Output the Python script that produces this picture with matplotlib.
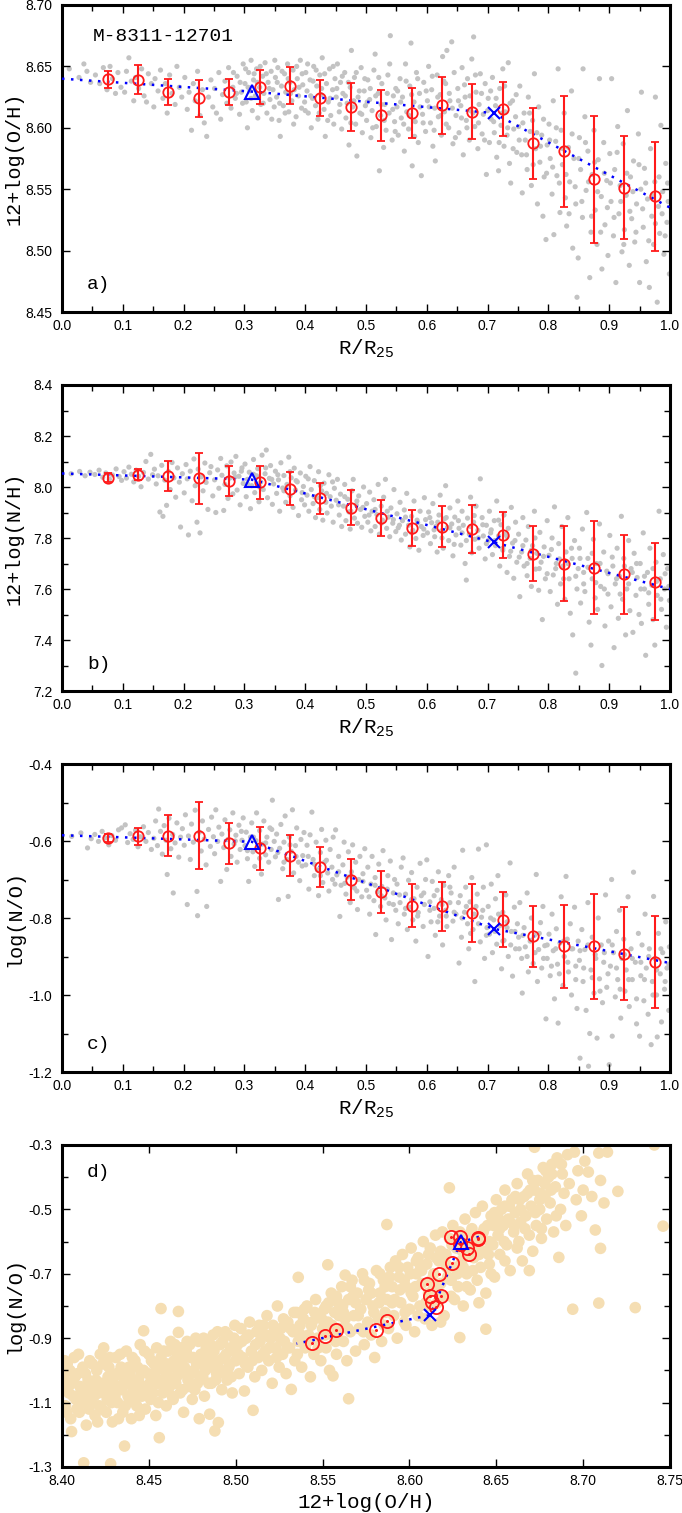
import numpy as np
import matplotlib
matplotlib.use("Agg")
import matplotlib.pyplot as plt
from matplotlib.ticker import FixedLocator, FormatStrFormatter

plt.rcParams['axes.unicode_minus'] = False
plt.rcParams['mathtext.fontset'] = 'custom'
plt.rcParams['mathtext.rm'] = 'Liberation Mono'
plt.rcParams['mathtext.tt'] = 'Liberation Mono'
plt.rcParams['font.family'] = ['Liberation Sans', 'DejaVu Sans']

# ---------------- data ----------------
galaxy = "M-8311-12701"

bin_r = [0.075, 0.125, 0.175, 0.225, 0.275, 0.325, 0.375, 0.425, 0.475, 0.525,
         0.575, 0.625, 0.675, 0.725, 0.775, 0.825, 0.875, 0.925, 0.975]
oh_mean = [8.6394, 8.6393, 8.6292, 8.6240, 8.6292, 8.6331, 8.6344, 8.6243, 8.6173, 8.6101,
           8.6121, 8.6183, 8.6132, 8.6154, 8.5873, 8.5810, 8.5580, 8.5512, 8.5441]
oh_err = [0.0071, 0.0120, 0.0107, 0.0150, 0.0107, 0.0140, 0.0150, 0.0150, 0.0195, 0.0210,
          0.0203, 0.0230, 0.0221, 0.0221, 0.0290, 0.0451, 0.0519, 0.0420, 0.0442]
nh_mean = [8.037, 8.049, 8.044, 8.034, 8.023, 8.018, 7.994, 7.955, 7.919, 7.878,
           7.839, 7.844, 7.835, 7.812, 7.739, 7.700, 7.684, 7.657, 7.629]
nh_err = [0.0185, 0.020, 0.059, 0.099, 0.060, 0.065, 0.0635, 0.061, 0.068, 0.070,
          0.070, 0.0805, 0.0935, 0.0885, 0.1095, 0.147, 0.1835, 0.156, 0.151]
no_mean = [-0.592, -0.588, -0.586, -0.586, -0.606, -0.619, -0.638, -0.668, -0.700, -0.732,
           -0.768, -0.770, -0.787, -0.804, -0.848, -0.874, -0.874, -0.893, -0.914]
no_err = [0.0113, 0.0215, 0.054, 0.088, 0.0535, 0.056, 0.0535, 0.052, 0.053, 0.055,
          0.0555, 0.0625, 0.075, 0.0705, 0.0785, 0.1085, 0.1365, 0.121, 0.1185]

# broken-line fit vertices: start, break 1 (triangle), break 2 (cross), end
fit_r = [0.0, 0.312, 0.710, 1.0]
fit_oh = [8.640, 8.6295, 8.612, 8.535]
fit_nh = [8.053, 8.029, 7.783, 7.600]
fit_no = [-0.585, -0.602, -0.828, -0.917]

# spaxels: panel a (R/R25, 12+log(O/H))
spax_a = [
(0.012,8.648),(0.028,8.641),(0.041,8.646),(0.047,8.637),(0.036,8.652),
(0.055,8.643),(0.062,8.636),(0.068,8.649),(0.074,8.631),(0.079,8.650),(0.083,8.640),(0.088,8.628),(0.092,8.645),(0.097,8.633),
(0.103,8.629),(0.106,8.646),(0.110,8.657),(0.114,8.638),(0.118,8.622),(0.121,8.641),(0.126,8.632),(0.131,8.648),(0.135,8.626),(0.139,8.621),(0.142,8.644),(0.147,8.636),
(0.151,8.617),(0.153,8.640),(0.158,8.630),(0.162,8.647),(0.166,8.624),(0.170,8.636),(0.173,8.612),(0.177,8.643),(0.181,8.628),(0.186,8.619),(0.189,8.650),(0.193,8.633),(0.197,8.625),
(0.202,8.641),(0.206,8.615),(0.209,8.629),(0.213,8.598),(0.216,8.636),(0.219,8.622),(0.223,8.646),(0.227,8.610),(0.231,8.631),(0.234,8.604),(0.238,8.593),(0.241,8.625),(0.245,8.639),(0.248,8.617),
(0.251,8.632),(0.254,8.612),(0.258,8.645),(0.261,8.607),(0.264,8.627),(0.268,8.638),(0.271,8.620),(0.274,8.649),(0.278,8.616),(0.281,8.633),(0.285,8.624),(0.288,8.642),(0.292,8.611),(0.295,8.629),(0.298,8.652),
(0.301,8.636),(0.303,8.621),(0.305,8.600),(0.307,8.645),(0.309,8.630),(0.311,8.655),(0.313,8.614),(0.315,8.639),(0.318,8.626),(0.320,8.648),(0.322,8.608),(0.325,8.633),(0.327,8.619),(0.330,8.642),(0.332,8.628),(0.334,8.653),(0.337,8.612),(0.339,8.637),(0.342,8.623),(0.344,8.646),(0.347,8.631),(0.349,8.617),
(0.351,8.641),(0.353,8.625),(0.355,8.649),(0.357,8.606),(0.359,8.593),(0.361,8.634),(0.364,8.618),(0.366,8.644),(0.368,8.629),(0.371,8.652),(0.373,8.613),(0.375,8.637),(0.378,8.622),(0.380,8.647),(0.382,8.631),(0.385,8.609),(0.387,8.640),(0.389,8.626),(0.392,8.655),(0.394,8.616),(0.396,8.635),(0.399,8.621),
(0.401,8.645),(0.403,8.630),(0.405,8.612),(0.408,8.639),(0.410,8.600),(0.412,8.624),(0.414,8.650),(0.417,8.618),(0.419,8.634),(0.421,8.607),(0.424,8.643),(0.426,8.627),(0.428,8.657),(0.431,8.615),(0.433,8.593),(0.435,8.636),(0.438,8.621),(0.440,8.648),(0.442,8.610),(0.445,8.631),(0.447,8.603),(0.449,8.640),
(0.451,8.625),(0.453,8.652),(0.456,8.613),(0.458,8.637),(0.460,8.599),(0.462,8.628),(0.465,8.645),(0.467,8.608),(0.469,8.620),(0.472,8.586),(0.474,8.633),(0.476,8.663),(0.478,8.617),(0.481,8.641),(0.483,8.603),(0.485,8.577),(0.487,8.625),(0.490,8.612),(0.492,8.649),(0.494,8.596),(0.497,8.630),(0.499,8.618),
(0.501,8.606),(0.503,8.639),(0.506,8.623),(0.508,8.592),(0.510,8.614),(0.513,8.647),(0.515,8.660),(0.517,8.601),(0.520,8.628),(0.522,8.565),(0.524,8.610),(0.526,8.636),(0.529,8.584),(0.531,8.619),(0.533,8.598),(0.536,8.643),(0.538,8.612),(0.540,8.675),(0.543,8.590),(0.545,8.626),(0.547,8.605),(0.549,8.632),
(0.551,8.617),(0.553,8.594),(0.556,8.640),(0.558,8.608),(0.560,8.625),(0.563,8.581),(0.565,8.652),(0.567,8.613),(0.570,8.599),(0.572,8.634),(0.574,8.669),(0.576,8.569),(0.579,8.621),(0.581,8.605),(0.583,8.645),(0.586,8.588),(0.588,8.628),(0.591,8.561),(0.593,8.611),(0.595,8.637),(0.598,8.597),
(0.601,8.622),(0.603,8.650),(0.606,8.604),(0.608,8.631),(0.610,8.585),(0.613,8.616),(0.614,8.573),(0.617,8.643),(0.619,8.609),(0.622,8.627),(0.624,8.594),(0.626,8.658),(0.629,8.613),(0.631,8.636),(0.633,8.663),(0.636,8.600),(0.638,8.622),(0.641,8.670),(0.643,8.587),(0.645,8.645),(0.648,8.610),
(0.651,8.632),(0.653,8.596),(0.656,8.618),(0.658,8.649),(0.660,8.578),(0.663,8.625),(0.665,8.606),(0.667,8.640),(0.670,8.590),(0.672,8.614),(0.674,8.656),(0.677,8.674),(0.679,8.601),(0.681,8.629),(0.684,8.583),(0.686,8.619),(0.688,8.644),(0.691,8.595),(0.693,8.611),(0.696,8.636),(0.698,8.562),
(0.701,8.624),(0.703,8.588),(0.706,8.607),(0.708,8.641),(0.711,8.596),(0.713,8.618),(0.715,8.576),(0.718,8.565),(0.720,8.632),(0.722,8.602),(0.725,8.648),(0.727,8.585),(0.729,8.613),(0.732,8.594),(0.734,8.653),(0.736,8.571),(0.738,8.555),(0.741,8.622),(0.743,8.599),(0.746,8.609),(0.748,8.580),
(0.751,8.601),(0.753,8.634),(0.756,8.578),(0.757,8.547),(0.760,8.612),(0.762,8.590),(0.765,8.566),(0.767,8.625),(0.770,8.597),(0.772,8.553),(0.774,8.606),(0.777,8.644),(0.779,8.583),(0.782,8.538),(0.784,8.617),(0.786,8.572),(0.789,8.594),(0.791,8.528),(0.793,8.560),(0.796,8.509),(0.798,8.586),
(0.801,8.603),(0.803,8.575),(0.806,8.546),(0.808,8.622),(0.809,8.513),(0.812,8.589),(0.814,8.561),(0.816,8.648),(0.819,8.531),(0.821,8.598),(0.823,8.570),(0.826,8.612),(0.828,8.543),(0.830,8.520),(0.833,8.584),(0.835,8.556),(0.838,8.630),(0.840,8.502),(0.842,8.575),(0.845,8.538),(0.847,8.462),(0.849,8.494),
(0.851,8.592),(0.853,8.566),(0.856,8.527),(0.857,8.648),(0.860,8.609),(0.862,8.549),(0.865,8.581),(0.868,8.478),(0.870,8.515),(0.872,8.562),(0.875,8.598),(0.877,8.533),(0.880,8.505),(0.882,8.574),(0.884,8.640),(0.887,8.544),(0.888,8.485),(0.891,8.588),(0.893,8.521),(0.896,8.557),(0.898,8.496),
(0.901,8.579),(0.903,8.540),(0.904,8.640),(0.907,8.512),(0.909,8.566),(0.911,8.474),(0.914,8.601),(0.916,8.530),(0.918,8.553),(0.921,8.499),(0.923,8.587),(0.925,8.517),(0.928,8.545),(0.930,8.614),(0.933,8.488),(0.935,8.560),(0.937,8.526),(0.940,8.573),(0.942,8.507),(0.945,8.538),(0.948,8.595),(0.950,8.474),
(0.952,8.550),(0.953,8.629),(0.956,8.519),(0.958,8.567),(0.961,8.491),(0.963,8.542),(0.966,8.470),(0.968,8.583),(0.970,8.528),(0.973,8.505),(0.975,8.556),(0.976,8.625),(0.979,8.458),(0.981,8.536),(0.983,8.514),(0.985,8.602),(0.988,8.548),(0.990,8.497),(0.993,8.571),(0.995,8.523),(0.997,8.540),(0.999,8.481),
(0.282,8.645),(0.287,8.628),(0.293,8.637),(0.297,8.620),(0.302,8.648),(0.306,8.633),(0.311,8.624),(0.316,8.644),(0.321,8.637),(0.326,8.650),(0.331,8.620),(0.336,8.644),(0.341,8.632),(0.345,8.607),(0.350,8.655),(0.354,8.637),(0.358,8.620),(0.362,8.646),(0.367,8.612),(0.372,8.640),(0.376,8.628),(0.381,8.603),(0.386,8.650),(0.390,8.633),(0.395,8.644),(0.400,8.614),(0.404,8.652),(0.409,8.626),(0.413,8.638),(0.418,8.647),(0.423,8.612),(0.427,8.632),(0.432,8.644),(0.437,8.606),(0.441,8.624),(0.446,8.650),
(0.452,8.632),(0.457,8.619),(0.461,8.642),(0.466,8.626),(0.471,8.637),(0.475,8.604),(0.480,8.622),(0.484,8.645),(0.489,8.630),(0.493,8.611),(0.498,8.640),(0.502,8.621),(0.507,8.632),(0.511,8.600),(0.516,8.626),(0.521,8.641),(0.525,8.619),(0.530,8.606),(0.535,8.628),(0.539,8.652),(0.544,8.615),(0.548,8.597),(0.552,8.630),(0.557,8.621),(0.562,8.603),(0.566,8.638),(0.571,8.610),(0.575,8.627),(0.580,8.593),(0.585,8.640),(0.589,8.617),(0.594,8.604),(0.599,8.630),
(0.604,8.617),(0.609,8.642),(0.612,8.598),(0.618,8.625),(0.623,8.610),(0.628,8.638),(0.632,8.603),(0.637,8.628),(0.642,8.616),(0.647,8.592),(0.652,8.622),(0.657,8.608),(0.662,8.635),(0.666,8.600),(0.671,8.626),(0.676,8.612),(0.680,8.643),(0.685,8.604),(0.690,8.628),(0.695,8.590),(0.700,8.614),(0.705,8.630),(0.710,8.605),(0.714,8.624),(0.719,8.588),(0.724,8.612),(0.728,8.634),(0.733,8.600),(0.737,8.620),(0.742,8.583),(0.747,8.627),
(0.752,8.590),(0.758,8.604),(0.764,8.578),(0.769,8.612),(0.775,8.570),(0.781,8.596),(0.787,8.585),(0.792,8.607),(0.797,8.563),(0.802,8.590),(0.807,8.568),(0.813,8.600),(0.818,8.555),(0.824,8.583),(0.829,8.562),(0.834,8.530),(0.839,8.595),(0.844,8.552),(0.850,8.575),(0.855,8.540),(0.861,8.588),(0.866,8.556),(0.871,8.528),(0.876,8.572),(0.881,8.548),(0.886,8.515),(0.892,8.563),(0.897,8.535),
(0.902,8.555),(0.908,8.527),(0.913,8.580),(0.919,8.540),(0.924,8.505),(0.929,8.563),(0.934,8.532),(0.939,8.548),(0.944,8.515),(0.949,8.570),(0.955,8.534),(0.960,8.555),(0.965,8.508),(0.971,8.545),(0.976,8.522),(0.982,8.560),(0.987,8.530),(0.992,8.512),(0.996,8.555),
]

# spaxels: panel b (R/R25, 12+log(N/H))
spax_b = [
(0.015,8.052),(0.029,8.061),(0.038,8.044),(0.046,8.058),
(0.054,8.049),(0.061,8.066),(0.067,8.038),(0.072,8.055),(0.078,8.030),(0.083,8.047),(0.089,8.071),(0.094,8.041),(0.098,8.026),
(0.102,8.060),(0.106,8.035),(0.110,8.078),(0.114,8.050),(0.118,8.020),(0.122,8.066),(0.126,8.042),(0.130,8.001),(0.134,8.057),(0.138,8.100),(0.142,8.031),(0.146,8.128),(0.149,8.048),
(0.152,8.070),(0.155,8.012),(0.158,8.044),(0.161,7.902),(0.164,8.085),(0.166,7.885),(0.169,8.027),(0.172,7.928),(0.175,8.061),(0.178,7.990),(0.181,8.096),(0.184,8.036),(0.187,7.960),(0.190,8.075),(0.193,8.019),(0.195,7.843),(0.198,8.052),
(0.201,7.977),(0.204,8.088),(0.206,8.032),(0.208,7.812),(0.211,8.062),(0.214,7.946),(0.217,8.110),(0.219,8.005),(0.222,7.862),(0.224,8.070),(0.227,7.820),(0.229,8.040),(0.232,7.985),(0.235,8.094),(0.237,8.018),(0.240,7.912),(0.243,8.056),(0.245,8.080),(0.248,7.965),
(0.251,8.028),(0.253,7.900),(0.256,8.067),(0.258,7.995),(0.261,8.112),(0.263,8.046),(0.266,7.908),(0.268,8.010),(0.271,8.083),(0.273,7.955),(0.276,8.035),(0.278,8.098),(0.281,7.973),(0.283,8.055),(0.286,8.120),(0.288,7.988),(0.291,8.042),(0.293,7.930),(0.296,8.075),(0.298,8.014),
(0.301,8.090),(0.303,7.962),(0.305,8.030),(0.308,8.058),(0.310,7.915),(0.312,8.005),(0.315,8.108),(0.317,7.978),(0.320,8.044),(0.322,8.072),(0.324,7.942),(0.327,8.020),(0.329,8.125),(0.331,7.990),(0.334,8.052),(0.336,8.145),(0.338,7.958),(0.341,8.034),(0.343,8.084),(0.346,7.932),(0.348,8.012),
(0.351,8.062),(0.353,7.975),(0.356,8.028),(0.358,7.905),(0.360,8.095),(0.363,7.996),(0.365,8.045),(0.368,7.940),(0.370,8.010),(0.373,8.117),(0.375,7.965),(0.377,8.036),(0.380,7.920),(0.382,8.074),(0.384,7.988),(0.387,8.020),(0.389,7.888),(0.392,8.055),(0.394,7.950),(0.397,8.002),(0.399,7.930),
(0.401,8.042),(0.403,7.968),(0.406,7.905),(0.408,8.080),(0.410,7.990),(0.413,7.935),(0.415,8.025),(0.417,7.880),(0.420,7.958),(0.422,8.060),(0.424,7.912),(0.427,7.985),(0.429,7.870),(0.431,8.015),(0.434,7.940),(0.436,7.898),(0.439,8.048),(0.441,7.962),(0.443,7.925),(0.446,7.862),(0.448,7.995),
(0.451,7.948),(0.453,8.030),(0.456,7.890),(0.458,7.972),(0.460,7.845),(0.463,7.925),(0.465,8.010),(0.467,7.868),(0.470,7.952),(0.472,7.902),(0.474,7.835),(0.477,7.985),(0.479,8.030),(0.481,7.878),(0.484,7.930),(0.486,7.858),(0.488,7.965),(0.491,7.912),(0.493,7.842),(0.496,8.000),(0.498,7.885),
(0.501,7.935),(0.503,7.862),(0.506,7.980),(0.508,7.828),(0.510,7.905),(0.513,7.950),(0.515,7.845),(0.518,7.892),(0.520,8.010),(0.522,7.815),(0.525,7.925),(0.527,7.870),(0.529,7.960),(0.532,8.030),(0.534,7.838),(0.537,7.882),(0.539,7.805),(0.541,7.918),(0.544,7.858),(0.546,7.990),(0.549,7.825),
(0.551,7.895),(0.553,7.840),(0.556,7.940),(0.558,7.792),(0.560,7.868),(0.563,7.910),(0.565,7.815),(0.567,7.975),(0.570,7.850),(0.572,7.765),(0.575,7.885),(0.577,7.830),(0.579,7.945),(0.582,7.798),(0.584,7.870),(0.587,7.752),(0.589,7.905),(0.591,7.845),(0.594,7.810),(0.596,7.958),(0.598,7.872),
(0.601,7.820),(0.603,7.902),(0.606,7.778),(0.608,7.860),(0.610,7.935),(0.613,7.805),(0.615,7.845),(0.617,7.745),(0.620,7.890),(0.622,7.968),(0.624,7.828),(0.627,7.760),(0.629,7.875),(0.631,8.005),(0.634,7.842),(0.636,7.790),(0.638,7.918),(0.641,7.855),(0.643,7.730),(0.646,7.882),(0.648,7.812),
(0.651,7.945),(0.653,7.838),(0.656,7.772),(0.658,7.905),(0.660,7.850),(0.663,7.700),(0.665,7.635),(0.667,7.878),(0.670,7.815),(0.672,7.960),(0.674,7.742),(0.677,7.862),(0.679,7.795),(0.681,7.925),(0.684,7.830),(0.686,7.760),(0.688,8.032),(0.691,7.880),(0.693,7.808),(0.696,7.718),(0.698,7.850),
(0.701,7.790),(0.703,7.905),(0.706,7.832),(0.708,7.735),(0.711,7.868),(0.713,7.770),(0.715,7.945),(0.718,7.808),(0.720,7.690),(0.722,7.852),(0.725,7.752),(0.727,7.890),(0.729,7.815),(0.732,7.665),(0.734,7.838),(0.736,7.728),(0.739,7.920),(0.741,7.780),(0.743,7.642),(0.746,7.862),(0.748,7.705),
(0.751,7.815),(0.753,7.570),(0.756,7.745),(0.758,7.880),(0.760,7.690),(0.763,7.792),(0.765,7.652),(0.767,7.845),(0.770,7.720),(0.772,7.610),(0.774,7.770),(0.777,7.905),(0.779,7.678),(0.781,7.740),(0.784,7.595),(0.786,7.822),(0.788,7.705),(0.790,7.480),(0.793,7.765),(0.795,7.640),(0.798,7.868),
(0.801,7.732),(0.803,7.590),(0.806,7.800),(0.808,7.655),(0.810,7.922),(0.813,7.700),(0.815,7.540),(0.817,7.778),(0.820,7.620),(0.822,7.845),(0.824,7.690),(0.827,7.560),(0.829,7.745),(0.832,7.880),(0.834,7.640),(0.836,7.505),(0.839,7.720),(0.840,7.420),(0.843,7.790),(0.845,7.270),(0.847,7.600),(0.849,7.680),
(0.851,7.760),(0.853,7.545),(0.856,7.835),(0.858,7.665),(0.860,7.590),(0.863,7.900),(0.865,7.720),(0.867,7.470),(0.870,7.380),(0.872,7.640),(0.874,7.795),(0.877,7.565),(0.879,7.700),(0.881,7.520),(0.884,7.855),(0.886,7.610),(0.888,7.300),(0.891,7.745),(0.893,7.455),(0.896,7.670),(0.898,7.580),
(0.901,7.810),(0.903,7.530),(0.906,7.690),(0.908,7.370),(0.910,7.620),(0.913,7.760),(0.915,7.485),(0.917,7.650),(0.920,7.885),(0.922,7.560),(0.924,7.720),(0.927,7.420),(0.929,7.600),(0.932,7.790),(0.934,7.515),(0.936,7.680),(0.939,7.430),(0.941,7.740),(0.944,7.575),(0.946,7.645),(0.949,7.500),
(0.951,7.700),(0.953,7.465),(0.956,7.820),(0.958,7.600),(0.960,7.340),(0.963,7.665),(0.965,7.540),(0.967,7.760),(0.970,7.615),(0.972,7.480),(0.975,7.380),(0.977,7.705),(0.979,7.575),(0.982,7.905),(0.984,7.640),(0.986,7.520),(0.989,7.735),(0.991,7.600),(0.994,7.450),(0.996,7.680),(0.999,7.555),
(0.285,8.040),(0.295,8.062),(0.305,8.012),(0.315,8.050),(0.325,8.000),(0.335,8.075),(0.345,8.030),(0.355,8.048),(0.365,7.985),(0.375,8.060),(0.385,8.025),(0.395,7.978),(0.405,8.032),(0.415,7.962),(0.425,8.005),(0.435,7.975),(0.445,8.020),(0.455,7.930),(0.465,7.962),(0.475,7.905),(0.485,7.945),(0.495,7.920),(0.505,7.890),(0.515,7.912),(0.525,7.858),(0.535,7.905),(0.545,7.872),(0.555,7.850),(0.565,7.882),(0.575,7.820),(0.585,7.860),(0.595,7.835),
(0.605,7.880),(0.612,7.832),(0.618,7.862),(0.625,7.800),(0.632,7.880),(0.638,7.840),(0.645,7.775),(0.652,7.868),(0.658,7.820),(0.665,7.790),(0.672,7.845),(0.678,7.888),(0.685,7.800),(0.692,7.852),(0.698,7.778),(0.705,7.820),(0.712,7.790),(0.718,7.870),(0.725,7.760),(0.732,7.805),(0.738,7.748),(0.745,7.790),(0.752,7.725),(0.758,7.770),(0.765,7.700),(0.772,7.752),(0.778,7.800),(0.785,7.680),(0.792,7.728),(0.798,7.660),
(0.805,7.755),(0.812,7.680),(0.818,7.718),(0.825,7.640),(0.832,7.700),(0.838,7.760),(0.845,7.650),(0.852,7.720),(0.858,7.620),(0.865,7.685),(0.872,7.740),(0.878,7.625),(0.885,7.700),(0.892,7.600),(0.898,7.660),(0.905,7.725),(0.912,7.640),(0.918,7.580),(0.925,7.690),(0.932,7.620),(0.938,7.665),(0.945,7.700),(0.952,7.600),(0.958,7.650),(0.965,7.585),(0.972,7.680),(0.978,7.630),(0.985,7.560),(0.992,7.660),(0.998,7.610),
]

# spaxels: panel c (R/R25, log(N/O))
spax_c = [
(0.016,-0.588),(0.031,-0.579),(0.042,-0.618),(0.048,-0.594),
(0.054,-0.583),(0.060,-0.601),(0.066,-0.575),(0.071,-0.592),(0.077,-0.610),(0.082,-0.586),(0.088,-0.598),(0.093,-0.571),(0.098,-0.566),
(0.104,-0.558),(0.108,-0.604),(0.112,-0.581),(0.117,-0.596),(0.121,-0.572),(0.125,-0.615),(0.129,-0.589),(0.134,-0.563),(0.138,-0.601),(0.142,-0.578),(0.147,-0.622),
(0.151,-0.593),(0.154,-0.548),(0.157,-0.612),(0.159,-0.517),(0.162,-0.575),(0.165,-0.634),(0.168,-0.560),(0.171,-0.598),(0.173,-0.687),(0.176,-0.541),(0.179,-0.620),(0.182,-0.583),(0.183,-0.735),(0.186,-0.605),(0.189,-0.553),(0.192,-0.642),(0.195,-0.590),(0.198,-0.568),
(0.201,-0.611),(0.203,-0.532),(0.206,-0.765),(0.208,-0.587),(0.211,-0.648),(0.213,-0.556),(0.216,-0.603),(0.219,-0.520),(0.222,-0.731),(0.223,-0.794),(0.226,-0.577),(0.229,-0.626),(0.231,-0.548),(0.234,-0.595),(0.237,-0.662),(0.238,-0.770),(0.241,-0.570),(0.244,-0.614),(0.246,-0.538),(0.249,-0.589),
(0.251,-0.633),(0.253,-0.519),(0.256,-0.601),(0.258,-0.564),(0.261,-0.705),(0.263,-0.582),(0.266,-0.617),(0.268,-0.545),(0.271,-0.674),(0.273,-0.596),(0.276,-0.571),(0.278,-0.640),(0.281,-0.527),(0.283,-0.608),(0.286,-0.585),(0.288,-0.655),(0.291,-0.559),(0.293,-0.622),(0.296,-0.598),(0.298,-0.540),
(0.301,-0.612),(0.303,-0.577),(0.305,-0.646),(0.307,-0.705),(0.310,-0.590),(0.312,-0.553),(0.314,-0.628),(0.317,-0.666),(0.319,-0.599),(0.320,-0.527),(0.323,-0.617),(0.325,-0.573),(0.328,-0.686),(0.330,-0.608),(0.332,-0.548),(0.335,-0.636),(0.337,-0.590),(0.340,-0.655),(0.342,-0.566),(0.344,-0.622),(0.346,-0.494),(0.349,-0.601),
(0.351,-0.641),(0.353,-0.582),(0.356,-0.752),(0.358,-0.619),(0.360,-0.557),(0.363,-0.672),(0.365,-0.603),(0.367,-0.535),(0.370,-0.648),(0.372,-0.744),(0.374,-0.590),(0.377,-0.627),(0.379,-0.519),(0.381,-0.683),(0.384,-0.612),(0.386,-0.566),(0.389,-0.655),(0.391,-0.703),(0.393,-0.596),(0.396,-0.638),(0.398,-0.578),
(0.401,-0.662),(0.403,-0.611),(0.406,-0.725),(0.408,-0.584),(0.411,-0.525),(0.413,-0.648),(0.415,-0.690),(0.418,-0.603),(0.420,-0.675),(0.422,-0.742),(0.425,-0.630),(0.427,-0.570),(0.429,-0.708),(0.432,-0.655),(0.434,-0.598),(0.437,-0.683),(0.439,-0.730),(0.441,-0.622),(0.444,-0.668),(0.446,-0.590),(0.449,-0.712),
(0.450,-0.571),(0.452,-0.688),(0.455,-0.640),(0.457,-0.796),(0.459,-0.715),(0.462,-0.662),(0.464,-0.603),(0.467,-0.738),(0.469,-0.694),(0.471,-0.628),(0.474,-0.760),(0.476,-0.680),(0.478,-0.610),(0.481,-0.722),(0.483,-0.655),(0.486,-0.778),(0.488,-0.700),(0.490,-0.640),(0.493,-0.745),(0.495,-0.685),(0.498,-0.620),
(0.501,-0.728),(0.503,-0.668),(0.506,-0.790),(0.508,-0.712),(0.510,-0.640),(0.513,-0.755),(0.515,-0.695),(0.516,-0.843),(0.519,-0.732),(0.521,-0.660),(0.524,-0.770),(0.526,-0.718),(0.528,-0.625),(0.531,-0.748),(0.533,-0.805),(0.536,-0.690),(0.538,-0.762),(0.540,-0.652),(0.542,-0.856),(0.545,-0.735),(0.547,-0.700),(0.549,-0.780),
(0.551,-0.712),(0.553,-0.815),(0.556,-0.760),(0.558,-0.668),(0.561,-0.644),(0.563,-0.790),(0.565,-0.738),(0.568,-0.830),(0.570,-0.702),(0.572,-0.772),(0.575,-0.682),(0.577,-0.805),(0.579,-0.750),(0.582,-0.860),(0.584,-0.720),(0.586,-0.786),(0.589,-0.658),(0.591,-0.742),(0.594,-0.822),(0.596,-0.765),(0.598,-0.700),
(0.600,-0.649),(0.602,-0.900),(0.605,-0.758),(0.607,-0.810),(0.609,-0.705),(0.612,-0.775),(0.614,-0.845),(0.617,-0.728),(0.619,-0.680),(0.621,-0.795),(0.624,-0.752),(0.626,-0.870),(0.628,-0.715),(0.631,-0.780),(0.633,-0.822),(0.636,-0.690),(0.638,-0.760),(0.640,-0.735),(0.643,-0.808),(0.645,-0.668),(0.648,-0.790),(0.653,-0.917),
(0.655,-0.742),(0.657,-0.850),(0.659,-0.624),(0.662,-0.785),(0.664,-0.720),(0.667,-0.815),(0.669,-0.880),(0.671,-0.758),(0.674,-0.695),(0.676,-0.830),(0.679,-0.965),(0.681,-0.770),(0.683,-0.738),(0.685,-0.621),(0.688,-0.862),(0.690,-0.798),(0.693,-0.720),(0.695,-0.905),(0.698,-0.610),(0.699,-0.825),
(0.701,-0.770),(0.703,-0.842),(0.706,-0.712),(0.708,-0.890),(0.710,-0.805),(0.713,-0.750),(0.715,-0.868),(0.717,-0.690),(0.720,-0.820),(0.723,-0.932),(0.725,-0.785),(0.727,-0.858),(0.730,-0.740),(0.732,-0.810),(0.734,-0.900),(0.737,-0.657),(0.739,-0.835),(0.741,-0.951),(0.744,-0.772),(0.746,-0.880),(0.749,-0.815),
(0.751,-0.850),(0.753,-0.760),(0.756,-0.905),(0.757,-0.995),(0.760,-0.825),(0.762,-0.875),(0.765,-0.735),(0.767,-0.940),(0.770,-0.860),(0.772,-0.800),(0.775,-0.918),(0.777,-0.845),(0.780,-0.687),(0.782,-0.965),(0.784,-0.882),(0.787,-0.812),(0.789,-0.930),(0.791,-0.770),(0.794,-0.872),(0.796,-1.062),(0.798,-0.905),
(0.801,-0.842),(0.803,-0.950),(0.806,-0.790),(0.808,-0.885),(0.810,-1.010),(0.813,-0.828),(0.815,-0.920),(0.816,-1.073),(0.819,-0.865),(0.821,-0.745),(0.824,-0.975),(0.826,-0.900),(0.829,-0.692),(0.831,-0.855),(0.833,-0.940),(0.836,-0.815),(0.838,-1.000),(0.840,-0.880),(0.843,-0.772),(0.845,-0.925),(0.847,-1.035),(0.849,-0.860),
(0.851,-0.910),(0.852,-1.164),(0.855,-0.830),(0.857,-0.965),(0.860,-0.882),(0.862,-1.040),(0.865,-0.760),(0.866,-1.185),(0.868,-1.100),(0.870,-0.935),(0.872,-0.850),(0.875,-0.995),(0.877,-0.895),(0.880,-1.112),(0.882,-0.800),(0.884,-0.958),(0.887,-0.870),(0.889,-1.020),(0.891,-0.915),(0.894,-0.740),(0.896,-0.980),(0.899,-0.860),
(0.900,-1.181),(0.902,-0.925),(0.904,-0.700),(0.905,-1.107),(0.907,-0.890),(0.910,-1.005),(0.912,-0.835),(0.914,-0.960),(0.917,-0.780),(0.919,-1.060),(0.921,-0.905),(0.924,-0.855),(0.926,-0.990),(0.928,-0.935),(0.931,-0.745),(0.933,-1.030),(0.936,-0.880),(0.938,-0.960),(0.940,-0.681),(0.943,-0.915),(0.945,-1.075),(0.948,-0.840),(0.950,-1.107),
(0.952,-0.950),(0.954,-0.870),(0.957,-1.015),(0.959,-0.790),(0.961,-0.930),(0.964,-1.050),(0.966,-0.880),(0.969,-1.129),(0.971,-0.965),(0.973,-0.744),(0.975,-0.905),(0.978,-1.000),(0.979,-1.109),(0.981,-0.840),(0.984,-0.945),(0.986,-1.070),(0.988,-0.890),(0.991,-0.985),(0.993,-0.810),(0.995,-0.930),(0.998,-1.040),(0.999,-0.875),
(0.285,-0.600),(0.295,-0.575),(0.305,-0.625),(0.315,-0.590),(0.325,-0.645),(0.335,-0.605),(0.345,-0.570),(0.355,-0.630),(0.365,-0.655),(0.375,-0.610),(0.385,-0.640),(0.395,-0.665),(0.405,-0.640),(0.415,-0.660),(0.425,-0.690),(0.435,-0.650),(0.445,-0.700),(0.455,-0.680),(0.465,-0.710),(0.475,-0.690),(0.485,-0.730),(0.495,-0.705),(0.505,-0.745),(0.515,-0.715),(0.525,-0.742),(0.535,-0.725),(0.545,-0.765),(0.555,-0.740),(0.565,-0.775),(0.575,-0.752),(0.585,-0.795),(0.595,-0.735),
(0.605,-0.780),(0.612,-0.742),(0.618,-0.810),(0.625,-0.765),(0.632,-0.795),(0.638,-0.720),(0.645,-0.785),(0.652,-0.760),(0.658,-0.800),(0.665,-0.770),(0.672,-0.840),(0.678,-0.790),(0.685,-0.815),(0.692,-0.780),(0.698,-0.845),(0.705,-0.800),(0.712,-0.835),(0.718,-0.790),(0.725,-0.860),(0.732,-0.825),(0.738,-0.870),(0.745,-0.835),(0.752,-0.880),(0.758,-0.845),(0.765,-0.900),(0.772,-0.858),(0.778,-0.890),(0.785,-0.840),(0.792,-0.905),(0.798,-0.870),
(0.805,-0.925),(0.812,-0.880),(0.818,-0.945),(0.825,-0.860),(0.832,-0.915),(0.838,-0.880),(0.845,-0.960),(0.852,-0.885),(0.858,-0.930),(0.865,-0.870),(0.872,-0.955),(0.878,-0.905),(0.885,-0.990),(0.892,-0.890),(0.898,-0.945),(0.905,-0.870),(0.912,-0.930),(0.918,-0.985),(0.925,-0.895),(0.932,-0.960),(0.938,-0.905),(0.945,-1.010),(0.952,-0.915),(0.958,-0.960),(0.965,-0.900),(0.972,-1.000),(0.978,-0.935),(0.985,-0.880),(0.992,-0.965),(0.998,-0.920),
]

# spaxels: panel d (12+log(O/H), log(N/O))
spax_d = [
(8.401,-1.02),(8.402,-1.11),(8.403,-0.98),(8.404,-1.07),(8.405,-1.15),(8.406,-1.04),(8.407,-0.96),(8.408,-1.09),(8.409,-1.01),(8.410,-1.13),(8.411,-1.06),(8.412,-0.99),(8.4125,-1.287),(8.413,-1.08),(8.414,-1.17),(8.415,-1.03),(8.416,-0.97),(8.417,-1.10),(8.418,-1.05),(8.419,-1.14),(8.420,-1.00),(8.421,-1.07),(8.422,-0.95),(8.423,-1.12),(8.424,-0.93),(8.425,-1.04),(8.426,-1.09),(8.427,-0.99),(8.428,-1.29),(8.428,-1.06),(8.429,-1.16),(8.430,-1.02),
(8.431,-0.96),(8.432,-1.10),(8.433,-1.05),(8.434,-0.99),(8.435,-1.13),(8.436,-1.235),(8.436,-1.03),(8.437,-0.94),(8.438,-1.08),(8.439,-1.01),(8.440,-1.15),(8.441,-1.06),(8.442,-0.97),(8.443,-1.11),(8.444,-1.03),(8.445,-0.92),(8.446,-1.08),(8.447,-0.877),(8.447,-1.00),(8.448,-1.12),(8.449,-1.05),(8.450,-0.95),(8.451,-1.09),(8.452,-1.02),(8.453,-0.98),(8.454,-1.14),(8.455,-1.04),(8.456,-1.209),(8.457,-0.808),(8.457,-0.96),(8.458,-1.07),(8.459,-1.00),(8.460,-1.11),
(8.461,-0.94),(8.462,-1.05),(8.463,-0.99),(8.464,-1.09),(8.465,-0.92),(8.466,-1.02),(8.467,-0.817),(8.467,-0.882),(8.468,-1.07),(8.469,-0.97),(8.470,-1.13),(8.471,-1.01),(8.472,-0.91),(8.473,-1.05),(8.474,-0.96),(8.475,-1.09),(8.476,-1.00),(8.477,-0.90),(8.478,-1.04),(8.479,-1.15),(8.480,-0.95),(8.481,-1.02),(8.482,-1.08),(8.483,-0.93),(8.484,-0.99),(8.485,-1.136),(8.486,-1.04),(8.487,-0.89),(8.488,-1.188),(8.488,-0.97),(8.489,-1.01),(8.490,-1.162),(8.491,-0.92),(8.492,-1.06),(8.493,-0.96),(8.494,-0.88),(8.495,-1.03),(8.496,-0.99),(8.497,-0.93),(8.498,-1.07),(8.499,-0.90),(8.500,-0.97),
(8.501,-0.92),(8.502,-1.01),(8.503,-0.87),(8.504,-0.96),(8.505,-1.064),(8.506,-0.90),(8.507,-0.99),(8.508,-0.85),(8.509,-0.94),(8.510,-1.124),(8.511,-1.02),(8.512,-0.88),(8.513,-0.96),(8.514,-0.91),(8.515,-1.00),(8.516,-0.86),(8.517,-0.94),(8.518,-0.83),(8.519,-0.97),(8.520,-0.90),(8.521,-1.04),(8.522,-0.88),(8.523,-0.93),(8.524,-0.80),(8.525,-0.99),(8.526,-0.87),(8.527,-0.95),(8.528,-0.91),(8.529,-1.01),(8.530,-0.85),
(8.531,-0.93),(8.532,-1.059),(8.533,-0.88),(8.534,-0.97),(8.535,-0.82),(8.536,-0.711),(8.536,-0.91),(8.537,-0.86),(8.538,-0.99),(8.539,-0.84),(8.540,-0.93),(8.541,-0.80),(8.542,-0.89),(8.543,-1.02),(8.544,-0.85),(8.545,-0.95),(8.546,-0.78),(8.547,-0.90),(8.548,-0.83),(8.549,-0.97),(8.550,-0.87),(8.551,-0.81),(8.552,-0.93),(8.553,-0.672),(8.553,-0.85),(8.554,-1.00),(8.555,-0.76),(8.556,-1.017),(8.556,-0.89),(8.557,-0.82),(8.558,-0.95),(8.559,-0.79),(8.560,-0.87),
(8.561,-0.74),(8.562,-0.91),(8.563,-0.704),(8.563,-0.84),(8.564,-0.97),(8.565,-1.088),(8.565,-0.78),(8.566,-0.88),(8.567,-0.72),(8.568,-0.83),(8.569,-0.94),(8.570,-0.76),(8.571,-0.87),(8.572,-0.81),(8.573,-0.70),(8.574,-0.92),(8.575,-0.78),(8.576,-0.85),(8.577,-0.73),(8.578,-0.89),(8.579,-0.80),(8.580,-0.96),(8.581,-0.69),(8.582,-0.84),(8.583,-0.76),(8.584,-0.91),(8.585,-0.72),(8.586,-0.82),(8.587,-0.547),(8.587,-0.78),(8.588,-0.87),(8.589,-0.68),(8.590,-0.74),
(8.591,-0.83),(8.592,-0.66),(8.593,-0.90),(8.594,-0.71),(8.595,-0.79),(8.596,-0.64),(8.597,-0.85),(8.598,-0.74),(8.599,-0.68),(8.600,-0.81),(8.601,-0.62),(8.602,-0.77),(8.603,-0.88),(8.604,-0.70),(8.605,-0.65),(8.606,-0.80),(8.607,-0.73),(8.608,-0.60),(8.609,-0.84),(8.610,-0.67),(8.611,-0.76),(8.612,-0.62),(8.613,-0.86),(8.614,-0.70),(8.615,-0.58),(8.616,-0.79),(8.617,-0.66),(8.618,-0.73),(8.619,-0.57),(8.620,-0.83),
(8.621,-0.64),(8.622,-0.71),(8.623,-0.433),(8.623,-0.59),(8.624,-0.77),(8.625,-0.55),(8.626,-0.68),(8.627,-0.62),(8.628,-0.74),(8.629,-0.898),(8.629,-0.57),(8.630,-0.66),(8.631,-0.80),(8.632,-0.53),(8.633,-0.70),(8.634,-0.61),(8.635,-0.75),(8.636,-0.56),(8.637,-0.65),(8.638,-0.51),(8.639,-0.72),(8.640,-0.59),(8.641,-0.68),(8.642,-0.49),(8.643,-0.63),(8.644,-0.872),(8.644,-0.76),(8.645,-0.55),(8.646,-0.67),(8.647,-0.52),(8.648,-0.61),(8.649,-0.71),(8.650,-0.47),
(8.651,-0.58),(8.652,-0.64),(8.653,-0.50),(8.654,-0.55),(8.655,-0.44),(8.656,-0.61),(8.657,-0.53),(8.658,-0.69),(8.659,-0.47),(8.660,-0.57),(8.661,-0.51),(8.662,-0.42),(8.663,-0.60),(8.664,-0.54),(8.665,-0.66),(8.666,-0.46),(8.667,-0.52),(8.668,-0.39),(8.669,-0.58),(8.670,-0.49),(8.671,-0.63),(8.672,-0.307),(8.672,-0.44),(8.673,-0.55),(8.674,-0.41),(8.675,-0.50),(8.676,-0.59),(8.677,-0.37),(8.678,-0.46),(8.679,-0.53),(8.680,-0.40),
(8.681,-0.48),(8.682,-0.36),(8.683,-0.57),(8.684,-0.43),(8.685,-0.34),(8.686,-0.649),(8.687,-0.50),(8.688,-0.39),(8.689,-0.45),(8.690,-0.55),(8.691,-0.33),(8.692,-0.42),(8.694,-0.810),(8.695,-0.322),(8.696,-0.47),(8.697,-0.38),(8.699,-0.52),(8.700,-0.44),(8.701,-0.35),(8.703,-0.384),(8.705,-0.46),(8.707,-0.564),(8.709,-0.325),(8.709,-0.791),(8.710,-0.41),(8.710,-0.621),(8.712,-0.48),(8.714,-0.322),(8.720,-0.444),(8.730,-0.805),(8.741,-0.300),(8.746,-0.552),
(8.4005,-1.06),(8.4015,-0.97),(8.4025,-1.13),(8.4035,-1.04),(8.4045,-1.00),(8.4055,-1.19),(8.4065,-1.08),(8.4075,-1.02),(8.4085,-1.12),(8.4095,-0.95),(8.4105,-1.05),(8.4115,-1.10),(8.4135,-1.01),(8.4145,-1.06),(8.4155,-1.12),(8.4165,-1.04),(8.4175,-0.98),(8.4185,-1.08),(8.4195,-1.03),(8.4205,-1.16),(8.4215,-1.11),(8.4225,-1.04),(8.4235,-0.98),(8.4245,-1.07),(8.4255,-1.13),(8.4265,-1.02),(8.4275,-0.96),(8.4285,-1.10),(8.4295,-1.04),(8.4305,-1.08),(8.4315,-1.01),(8.4325,-1.15),(8.4335,-0.95),(8.4345,-1.06),(8.4355,-1.01),(8.4365,-1.11),(8.4375,-1.04),(8.4385,-0.99),(8.4395,-1.09),(8.4405,-0.96),(8.4415,-1.03),(8.4425,-1.08),(8.4435,-0.99),(8.4445,-1.14),(8.4455,-1.01),(8.4465,-1.05),(8.4475,-0.94),(8.4485,-1.07),(8.4495,-1.01),
(8.4505,-1.04),(8.4515,-0.97),(8.4525,-1.07),(8.4535,-1.01),(8.4545,-0.93),(8.4555,-1.10),(8.4565,-0.99),(8.4575,-1.03),(8.4585,-0.94),(8.4595,-1.06),(8.4605,-0.98),(8.4615,-1.02),(8.4625,-0.91),(8.4635,-1.08),(8.4645,-0.97),(8.4655,-1.04),(8.4665,-0.95),(8.4675,-1.00),(8.4685,-0.93),(8.4695,-1.06),(8.4705,-0.99),(8.4715,-0.94),(8.4725,-1.03),(8.4735,-0.92),(8.4745,-1.01),(8.4755,-0.96),(8.4765,-1.06),(8.4775,-0.98),(8.4785,-0.91),(8.4795,-1.02),(8.4805,-0.97),(8.4815,-0.90),(8.4825,-1.00),(8.4835,-0.96),(8.4845,-1.04),(8.4855,-0.92),(8.4865,-0.99),(8.4875,-0.94),(8.4885,-1.03),(8.4895,-0.88),(8.4905,-0.97),(8.4915,-1.00),(8.4925,-0.91),(8.4935,-1.01),(8.4945,-0.95),(8.4955,-0.89),(8.4965,-0.98),(8.4975,-1.02),(8.4985,-0.94),(8.4995,-0.86),
(8.5015,-0.95),(8.5035,-0.91),(8.5055,-0.98),(8.5075,-0.89),(8.5095,-0.97),(8.5115,-0.92),(8.5135,-0.86),(8.5155,-0.95),(8.5175,-0.89),(8.5195,-0.93),(8.5215,-0.86),(8.5235,-0.96),(8.5255,-0.90),(8.5275,-0.84),(8.5295,-0.93),(8.5315,-0.87),(8.5335,-0.82),(8.5355,-0.95),(8.5375,-0.89),(8.5395,-0.81),(8.5415,-0.91),(8.5435,-0.86),(8.5455,-0.82),(8.5475,-0.93),(8.5495,-0.84),(8.5515,-0.89),(8.5535,-0.79),(8.5555,-0.86),(8.5575,-0.91),(8.5595,-0.83),
(8.5615,-0.80),(8.5645,-0.87),(8.5675,-0.77),(8.5705,-0.83),(8.5735,-0.88),(8.5765,-0.75),(8.5795,-0.82),(8.5825,-0.79),(8.5855,-0.86),(8.5885,-0.71),(8.5915,-0.78),(8.5945,-0.75),(8.5975,-0.82),(8.6005,-0.70),(8.6035,-0.74),(8.6065,-0.68),(8.6095,-0.79),(8.6125,-0.72),(8.6155,-0.65),(8.6185,-0.77),(8.6215,-0.68),(8.6245,-0.61),(8.6275,-0.70),(8.6305,-0.63),(8.6335,-0.58),(8.6365,-0.69),(8.6395,-0.62),(8.6425,-0.57),(8.6455,-0.64),(8.6485,-0.55),
(8.6515,-0.53),(8.6545,-0.60),(8.6575,-0.49),(8.6605,-0.55),(8.6635,-0.47),(8.6665,-0.56),(8.6695,-0.44),(8.6725,-0.51),(8.6755,-0.45),(8.6785,-0.38),(8.6815,-0.44),(8.6845,-0.52),(8.6875,-0.36),
(8.552,-0.80),(8.558,-0.77),(8.562,-0.82),(8.566,-0.74),(8.569,-0.79),(8.574,-0.72),(8.578,-0.76),(8.583,-0.70),(8.586,-0.74),(8.590,-0.79),(8.594,-0.68),(8.597,-0.72),(8.601,-0.76),(8.604,-0.66),(8.607,-0.69),(8.611,-0.64),(8.614,-0.74),(8.618,-0.63),(8.621,-0.67),(8.624,-0.72),(8.628,-0.60),(8.631,-0.68),(8.634,-0.64),(8.637,-0.59),(8.640,-0.64),(8.643,-0.56),(8.646,-0.60),(8.649,-0.51),(8.652,-0.56),(8.655,-0.49),(8.658,-0.54),(8.661,-0.46),(8.664,-0.50),(8.668,-0.45),(8.671,-0.41),(8.675,-0.47),(8.678,-0.42),(8.682,-0.39),
(8.598,-0.86),(8.605,-0.83),(8.612,-0.80),(8.618,-0.85),(8.626,-0.78),(8.633,-0.74),(8.640,-0.79),(8.647,-0.70),(8.655,-0.66),(8.662,-0.62),(8.669,-0.69),(8.676,-0.56),
]

# ---------------- style ----------------
MONO = 'Liberation Mono'
GREY = '#c3c3c3'
WHEAT = '#f5deb3'
RED = '#ff1a1a'
BLUE = '#0000ff'
SPINE_W = 2.2

fig = plt.figure(figsize=(6.82, 15.13), dpi=100)
W, H = 682.0, 1513.0
def axes_px(left, top, right, bottom):
    return fig.add_axes([left / W, 1 - bottom / H, (right - left) / W, (bottom - top) / H])

ax_a = axes_px(62, 5, 670, 312)
ax_b = axes_px(62, 385, 670, 691)
ax_c = axes_px(62, 764, 670, 1072)
ax_d = axes_px(62, 1145, 670, 1467)

def style(ax):
    for s in ax.spines.values():
        s.set_linewidth(SPINE_W)
    ax.tick_params(which='both', direction='in', top=True, right=True, width=1.0, labelsize=10)
    ax.tick_params(which='major', length=6)
    ax.tick_params(which='minor', length=4)
    ax.tick_params(axis='x', pad=5)
    ax.tick_params(axis='y', pad=7)
    for lab in ax.get_xticklabels() + ax.get_yticklabels():
        lab.set_family('Liberation Sans')

def rpanel(ax, spax, bmean, berr, fit_y, ylim, ymaj, ymin, yfmt, ylabel, letter, ylab_x):
    sx = [p[0] for p in spax]
    sy = [p[1] for p in spax]
    ax.scatter(sx, sy, s=14, color=GREY, edgecolors='none', zorder=1)
    ax.plot(fit_r, fit_y, color=BLUE, lw=1.8, ls=(0, (1.0, 2.6)), zorder=3)
    ax.errorbar(bin_r, bmean, yerr=berr, fmt='o', ms=7.5, mfc='none', mec=RED, mew=1.3,
                ecolor=RED, elinewidth=1.5, capsize=3, capthick=1.5, zorder=4)
    ax.plot([fit_r[1]], [fit_y[1]], marker='^', ms=10, mfc='none', mec=BLUE, mew=1.5, ls='none', zorder=5)
    ax.plot([fit_r[2]], [fit_y[2]], marker='x', ms=9, mec=BLUE, mew=1.5, ls='none', zorder=5)
    ax.set_xlim(0.0, 1.0)
    ax.set_ylim(*ylim)
    ax.xaxis.set_major_locator(FixedLocator([0.0, 0.1, 0.2, 0.3, 0.4, 0.5, 0.6, 0.7, 0.8, 0.9, 1.0]))
    ax.xaxis.set_minor_locator(FixedLocator([0.05, 0.15, 0.25, 0.35, 0.45, 0.55, 0.65, 0.75, 0.85, 0.95]))
    ax.xaxis.set_major_formatter(FormatStrFormatter('%.1f'))
    ax.yaxis.set_major_locator(FixedLocator(ymaj))
    ax.yaxis.set_minor_locator(FixedLocator(ymin))
    ax.yaxis.set_major_formatter(FormatStrFormatter(yfmt))
    ax.set_xlabel(r'$\mathrm{R/R_{25}}$', fontsize=15)
    ax.xaxis.set_label_coords(0.5, -0.085)
    ax.set_ylabel(ylabel, family=MONO, fontsize=14.5)
    ax.yaxis.set_label_coords(ylab_x, 0.5)
    ax.text(0.041, 0.088, letter, transform=ax.transAxes, family=MONO, fontsize=14,
            ha='left', va='center')
    style(ax)

ylx = (24 - 62) / 608.0
rpanel(ax_a, spax_a, oh_mean, oh_err, fit_oh, (8.45, 8.70),
       [8.45, 8.50, 8.55, 8.60, 8.65, 8.70], [], '%.2f', '12+log(O/H)', 'a)', ylx)
rpanel(ax_b, spax_b, nh_mean, nh_err, fit_nh, (7.2, 8.4),
       [7.2, 7.4, 7.6, 7.8, 8.0, 8.2, 8.4], [7.3, 7.5, 7.7, 7.9, 8.1, 8.3], '%.1f', '12+log(N/H)', 'b)', ylx)
rpanel(ax_c, spax_c, no_mean, no_err, fit_no, (-1.2, -0.4),
       [-1.2, -1.0, -0.8, -0.6, -0.4], [-1.1, -0.9, -0.7, -0.5], '%.1f', 'log(N/O)', 'c)', ylx)
ax_a.text(0.05, 0.899, galaxy, transform=ax_a.transAxes, family=MONO, fontsize=14,
          ha='left', va='center')

# ---- panel d ----
dx = [p[0] for p in spax_d]
dy = [p[1] for p in spax_d]
ax_d.scatter(dx, dy, s=70, color=WHEAT, edgecolors='none', zorder=1)
ax_d.plot(fit_oh, fit_no, color=BLUE, lw=1.8, ls=(0, (1.0, 2.6)), zorder=3)
ax_d.plot(oh_mean, no_mean, ls='none', marker='o', ms=9.5, mfc='none', mec=RED, mew=1.3, zorder=4)
ax_d.plot(oh_mean, no_mean, ls='none', marker='o', ms=1.2, color=RED, zorder=4)
ax_d.plot([fit_oh[1]], [fit_no[1]], marker='^', ms=10, mfc='none', mec=BLUE, mew=1.5, ls='none', zorder=5)
ax_d.plot([fit_oh[2]], [fit_no[2]], marker='x', ms=9, mec=BLUE, mew=1.5, ls='none', zorder=5)
ax_d.set_xlim(8.40, 8.75)
ax_d.set_ylim(-1.3, -0.3)
ax_d.xaxis.set_major_locator(FixedLocator([8.40, 8.45, 8.50, 8.55, 8.60, 8.65, 8.70, 8.75]))
ax_d.xaxis.set_major_formatter(FormatStrFormatter('%.2f'))
ax_d.yaxis.set_major_locator(FixedLocator([-1.3, -1.1, -0.9, -0.7, -0.5, -0.3]))
ax_d.yaxis.set_minor_locator(FixedLocator([-1.2, -1.0, -0.8, -0.6, -0.4]))
ax_d.yaxis.set_major_formatter(FormatStrFormatter('%.1f'))
ax_d.set_xlabel('12+log(O/H)', family=MONO, fontsize=15)
ax_d.xaxis.set_label_coords(0.5, -0.080)
ax_d.set_ylabel('log(N/O)', family=MONO, fontsize=14.5)
ax_d.yaxis.set_label_coords(ylx, 0.5)
ax_d.text(0.041, 0.916, 'd)', transform=ax_d.transAxes, family=MONO, fontsize=14,
          ha='left', va='center')
style(ax_d)

fig.savefig('out.png', dpi=100)
